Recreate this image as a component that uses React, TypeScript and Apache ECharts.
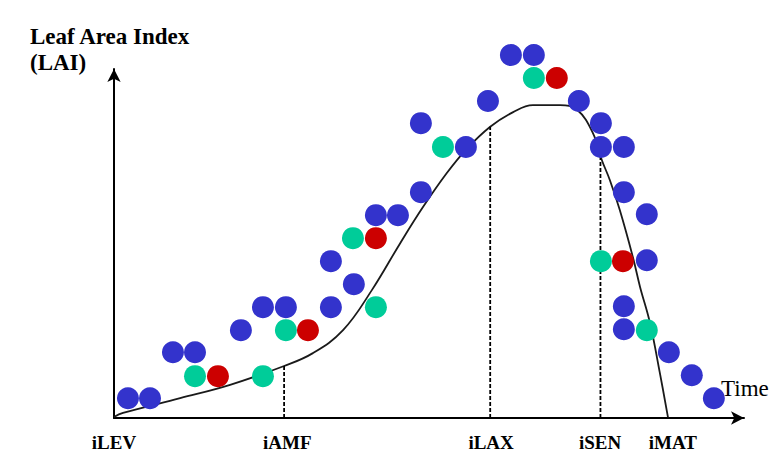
import React, { useEffect, useRef } from "react";
import * as echarts from "echarts";

// Time in days (x), Leaf Area Index (y)
const bluePoints: number[][] = [
  [3.1, 0.43], [8, 0.43], [13.1, 1.43], [18, 1.43], [28.2, 1.91], [33.1, 2.41],
  [38.2, 2.41], [48.2, 2.41], [48.2, 3.41], [53.3, 2.91], [58.2, 4.41], [63.1, 4.41],
  [68.2, 4.91], [68.2, 6.41], [78.2, 5.89], [83.1, 6.89], [88.2, 7.89], [93.3, 7.89],
  [103.3, 6.89], [108.2, 6.41], [108.2, 5.89], [113.3, 5.89], [113.3, 4.91], [118.4, 4.43],
  [118.4, 3.43], [113.3, 2.43], [113.3, 1.93], [123.3, 1.43], [128.4, 0.93], [133.3, 0.43],
];
const greenPoints: number[][] = [
  [18, 0.91], [33.1, 0.91], [38.2, 1.91], [53.1, 3.91], [58.2, 2.41],
  [73.1, 5.89], [93.3, 7.39], [108.2, 3.41], [118.4, 1.91],
];
const redPoints: number[][] = [
  [23.1, 0.91], [43.1, 1.91], [58.2, 3.91], [98.4, 7.39], [113.1, 3.41],
];
const laiCurve: number[][] = [
  [0, 0.02], [2, 0.11], [14.7, 0.43], [25.8, 0.72], [37.8, 1.13], [44.2, 1.41],
  [50.9, 1.91], [57.3, 2.78], [63.6, 3.8], [68.7, 4.59], [74, 5.33], [78.2, 5.83],
  [83.6, 6.33], [88.7, 6.65], [93.1, 6.8], [99.1, 6.8], [102.9, 6.7], [106.4, 6.2],
  [108.4, 5.61], [110.2, 5.17], [112.4, 4.52], [115.3, 3.5], [116.9, 2.85],
  [119.1, 2.07], [121.3, 0.98], [123.1, 0.02],
];
const stageNames: string[] = ["iLEV", "iAMF", "iLAX", "iSEN", "iMAT"];
const stageTicks: number[] = [0, 38.5, 83.8, 108, 124.2];
const markerLines: number[][][] = [
  [[37.8, 0], [37.8, 1.13]],
  [[83.6, 0], [83.6, 6.33]],
  [[108.1, 0], [108.1, 5.7]],
];

const FONT = "'Liberation Serif', 'DejaVu Serif', serif";

export default function App() {
  const ref = useRef<HTMLDivElement>(null);
  useEffect(() => {
    if (!ref.current) return;
    const chart = echarts.init(ref.current, null, { renderer: "svg" });
    const axisLine = {
      show: true,
      lineStyle: { color: "#000", width: 2 },
      symbol: ["none", "arrow"],
      symbolSize: [10, 13],
    };
    const dot = (data: number[][], color: string) => ({
      type: "scatter",
      data,
      symbol: "circle",
      symbolSize: 22,
      clip: false,
      itemStyle: { color, opacity: 1 },
      z: 5,
    });
    chart.setOption({
      animation: false,
      backgroundColor: "#fff",
      title: {
        text: "Leaf Area Index\n(LAI)",
        left: 30,
        top: 23,
        padding: 0,
        textStyle: {
          fontFamily: FONT,
          fontWeight: "bold",
          fontSize: 23,
          lineHeight: 26,
          color: "#000",
        },
      },
      grid: { left: 114, top: 69, width: 630, height: 349, containLabel: false },
      xAxis: {
        type: "value",
        min: 0,
        max: 140,
        name: "Time",
        nameLocation: "end",
        nameGap: -23,
        nameTextStyle: {
          fontFamily: FONT,
          fontSize: 23,
          color: "#000",
          align: "left",
          verticalAlign: "bottom",
          padding: [0, 0, 18, 0],
        },
        axisLine,
        axisTick: { show: false },
        splitLine: { show: false },
        axisLabel: {
          customValues: stageTicks,
          formatter: (v: number) => {
            const i = stageTicks.findIndex((t) => Math.abs(t - v) < 1e-6);
            return i >= 0 ? stageNames[i] : "";
          },
          fontFamily: FONT,
          fontWeight: "bold",
          fontSize: 19,
          color: "#000",
          margin: 15,
        },
      },
      yAxis: {
        type: "value",
        min: 0,
        max: 349 / 46,
        axisLine,
        axisTick: { show: false },
        splitLine: { show: false },
        axisLabel: { show: false },
      },
      series: [
        {
          type: "line",
          data: laiCurve,
          smooth: 0.4,
          symbol: "none",
          lineStyle: { color: "#1a1a1a", width: 1.8 },
          z: 2,
        },
        ...markerLines.map((seg) => ({
          type: "line",
          data: seg,
          symbol: "none",
          lineStyle: { color: "#000", width: 1.8, type: [4, 2] },
          z: 2,
        })),
        dot(bluePoints, "#3333CC"),
        dot(greenPoints, "#00CC99"),
        dot(redPoints, "#CC0000"),
      ],
    });
    return () => chart.dispose();
  }, []);
  return (
    <div
      ref={ref}
      style={{ position: "fixed", left: 0, top: 0, width: 773, height: 452 }}
    />
  );
}
